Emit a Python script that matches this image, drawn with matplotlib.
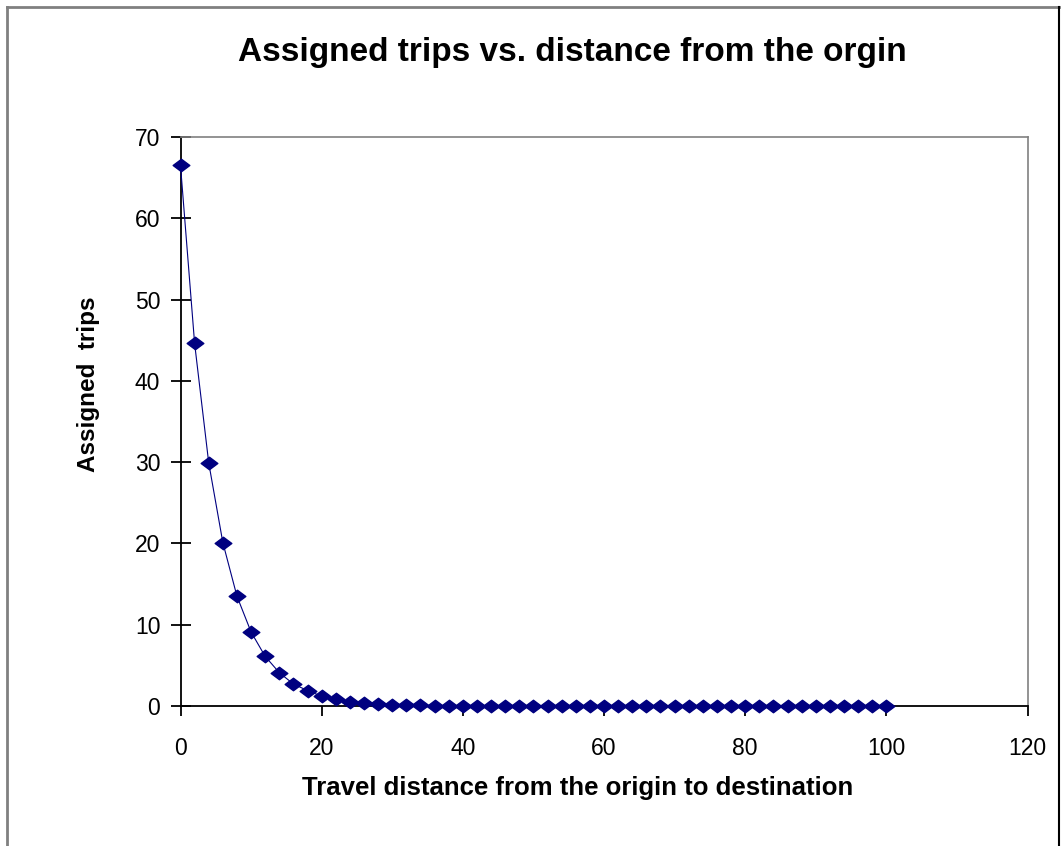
import matplotlib
matplotlib.use("Agg")
import matplotlib.pyplot as plt
from matplotlib.lines import Line2D
from matplotlib.path import Path

# ---- data ----
distance = list(range(0, 101, 2))
trips = [66.5, 44.6, 29.9, 20.1, 13.5, 9.1, 6.1, 4.1, 2.7, 1.9,
         1.2, 0.8, 0.55, 0.4, 0.25, 0.17, 0.11, 0.07, 0.05, 0.03,
         0.02, 0.01, 0.01, 0.0, 0.0, 0.0, 0.0, 0.0, 0.0, 0.0,
         0.0, 0.0, 0.0, 0.0, 0.0, 0.0, 0.0, 0.0, 0.0, 0.0,
         0.0, 0.0, 0.0, 0.0, 0.0, 0.0, 0.0, 0.0, 0.0, 0.0, 0.0]
x_ticks = [0, 20, 40, 60, 80, 100, 120]
y_ticks = [0, 10, 20, 30, 40, 50, 60, 70]
title = "Assigned trips vs. distance from the orgin"
x_label = "Travel distance from the origin to destination"
y_label = "Assigned  trips"

W, H = 1062, 846
plt.rcParams['font.family'] = ['Liberation Sans', 'DejaVu Sans']
fig = plt.figure(figsize=(W / 100, H / 100), dpi=100)
fig.patch.set_facecolor('white')

def fx(px):
    return px / W

def fy(py):
    return 1 - py / H

# outer chart border (left/top gray, right black)
fig.add_artist(Line2D([fx(7), fx(7)], [fy(7), 0], color='#808080', lw=2.0, transform=fig.transFigure))
fig.add_artist(Line2D([fx(7), fx(1059)], [fy(7), fy(7)], color='#808080', lw=2.0, transform=fig.transFigure))
fig.add_artist(Line2D([fx(1059), fx(1059)], [fy(7), 0], color='black', lw=1.5, transform=fig.transFigure))

left, right, top, bottom = 180.5, 1027.5, 137, 706
ax = fig.add_axes([fx(left), fy(bottom), fx(right) - fx(left), fy(top) - fy(bottom)])

diamond = Path([(-1, 0), (0, 0.75), (1, 0), (0, -0.75), (-1, 0)],
               [Path.MOVETO, Path.LINETO, Path.LINETO, Path.LINETO, Path.CLOSEPOLY])
ax.plot(distance, trips, color='#000080', lw=0.8, marker=diamond,
        markersize=12, markerfacecolor='#000080', markeredgecolor='#000080',
        clip_on=False, zorder=3)

ax.set_xlim(0, 120)
ax.set_ylim(0, 70)
ax.set_xticks(x_ticks)
ax.set_yticks(y_ticks)
ax.set_xticklabels([str(v) for v in x_ticks], fontsize=16.5)
ax.set_yticklabels([str(v) for v in y_ticks], fontsize=16.5)

for s in ['top', 'right']:
    ax.spines[s].set_color('#808080')
    ax.spines[s].set_linewidth(1.2)
for s in ['left', 'bottom']:
    ax.spines[s].set_color('black')
    ax.spines[s].set_linewidth(1.3)

ax.tick_params(axis='y', direction='inout', length=15, width=1.3, pad=7)
ax.tick_params(axis='x', direction='out', length=7, width=1.3, pad=15)

fig.text(fx(572), fy(53), title, ha='center', va='center',
         fontsize=24, fontweight='bold')
fig.text(fx(578), fy(788), x_label, ha='center', va='center',
         fontsize=18.5, fontweight='bold')
fig.text(fx(89), fy(384), y_label, ha='center', va='center',
         fontsize=17.5, fontweight='bold', rotation=90)

fig.savefig('out.png', dpi=100, facecolor='white')
